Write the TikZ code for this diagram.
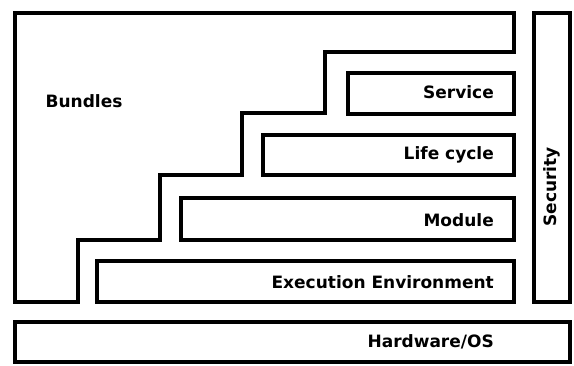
\documentclass[tikz,border=0pt]{standalone}
\usepackage{fontspec}
\setmainfont{DejaVu Sans}
\begin{document}
\begin{tikzpicture}[x=1pt,y=-1pt,
  layer/.style={draw=black,line width=3.2pt,fill=white},
  txt/.style={font=\fontsize{17}{19}\selectfont\bfseries,inner sep=0pt},
  lbl/.style={txt,anchor=east}]
\useasboundingbox (0,0) rectangle (574,365);
% staircase outline holding the bundles
\draw[layer,line join=miter] (15,13) -- (514,13) -- (514,52) -- (325,52) -- (325,113)
  -- (242,113) -- (242,175) -- (160,175) -- (160,240) -- (78,240) -- (78,302)
  -- (15,302) -- cycle;
\node[txt] (bundles) at (84,101) {Bundles};
% framework layers
\draw[layer] (348,73) rectangle (514,114);
\node[lbl] (service) at (494,92) {Service};
\draw[layer] (263,135) rectangle (514,175);
\node[lbl] (life) at (494,155) {Life cycle};
\draw[layer] (181,198) rectangle (514,240);
\node[lbl] (module) at (494,220) {Module};
\draw[layer] (97,261) rectangle (514,302);
\node[lbl] (exec) at (494,282) {Execution Environment};
% security column
\draw[layer] (534,13) rectangle (570,302);
\node[txt,rotate=90] (security) at (552,187) {Security};
% platform
\draw[layer] (15,322) rectangle (570,362);
\node[lbl] (hw) at (494,342) {Hardware/OS};
\end{tikzpicture}
\end{document}
